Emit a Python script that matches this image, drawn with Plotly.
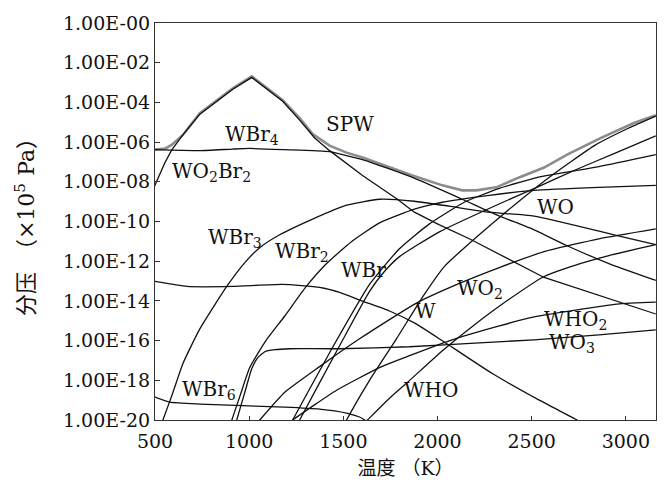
import plotly.graph_objects as go

# Temperatures (K) and log10 partial pressures (x1e5 Pa)
T_SPW = [500, 553, 590, 648, 738, 828, 913, 1014, 1178, 1268, 1337, 1427, 1517, 1602, 1867, 2026, 2131, 2206, 2312, 2433, 2566, 2688, 2868, 3043, 3159]
lg_SPW = [-6.38, -6.33, -6.13, -5.64, -4.54, -3.89, -3.29, -2.69, -3.89, -4.79, -5.59, -6.18, -6.53, -6.78, -7.68, -8.18, -8.43, -8.43, -8.28, -7.78, -7.28, -6.63, -5.79, -5.04, -4.64]

T_WO2Br2 = [495, 526, 553, 590, 648, 738, 828, 913, 1014, 1178, 1268, 1348, 1427, 1602, 1787, 1877, 2010, 2169, 2566, 2953, 3159]
lg_WO2Br2 = [-8.28, -7.63, -7.03, -6.38, -5.64, -4.59, -3.94, -3.34, -2.74, -3.94, -4.89, -5.79, -6.43, -7.68, -8.88, -9.53, -10.17, -10.87, -12.82, -14.01, -14.66]

T_WBr4 = [500, 738, 913, 1003, 1189, 1427, 1517, 1602, 1867, 2131, 2317, 2513, 2688, 2910, 3159]
lg_WBr4 = [-6.38, -6.43, -6.35, -6.32, -6.38, -6.48, -6.68, -6.88, -7.78, -8.88, -9.68, -10.42, -11.22, -12.12, -12.97]

T_WBr3 = [523, 542, 590, 648, 738, 881, 977, 1056, 1162, 1337, 1517, 1692, 1877, 2062, 2275, 2513, 2937, 3159]
lg_WBr3 = [-20.5, -20.0, -18.75, -17.16, -15.41, -13.27, -12.07, -11.32, -10.67, -9.88, -9.18, -8.88, -8.98, -9.23, -9.53, -9.73, -10.67, -11.17]

T_WBr2 = [892, 908, 956, 1003, 1088, 1189, 1295, 1411, 1543, 1692, 1877, 2026, 2275, 2513, 2857, 3159]
lg_WBr2 = [-20.5, -20.0, -18.65, -17.36, -16.01, -14.76, -13.37, -12.12, -11.02, -10.07, -9.38, -9.03, -8.68, -8.43, -8.28, -8.18]

T_WO3 = [918, 934, 977, 1014, 1046, 1083, 1136, 1215, 1480, 1851, 2222, 2513, 2857, 3159]
lg_WO3 = [-20.5, -20.0, -18.6, -17.41, -16.86, -16.56, -16.46, -16.41, -16.41, -16.31, -16.11, -15.96, -15.71, -15.46]

T_WBr5 = [500, 670, 913, 1178, 1374, 1480, 1602, 1745, 1877, 2026, 2291, 2540, 2741, 2804]
lg_WBr5 = [-13.02, -13.27, -13.27, -13.17, -13.32, -13.57, -14.01, -14.51, -15.11, -16.01, -17.66, -19.0, -20.0, -20.35]

T_WBr6 = [500, 579, 738, 1189, 1374, 1517, 1586, 1639]
lg_WBr6 = [-18.85, -19.1, -19.2, -19.35, -19.45, -19.65, -19.85, -20.15]

T_WO2 = [1003, 1056, 1189, 1374, 1586, 1888, 2116, 2328, 2566, 2857, 3159]
lg_WO2 = [-20.6, -20.0, -18.6, -17.31, -15.91, -14.11, -13.12, -12.32, -11.52, -10.87, -10.37]

T_WHO2 = [1162, 1231, 1464, 1692, 1851, 2062, 2328, 2513, 2953, 3159]
lg_WHO2 = [-20.5, -20.0, -18.5, -17.36, -16.76, -16.01, -15.26, -14.81, -14.16, -14.06]

T_WHO = [1586, 1628, 1745, 1835, 2026, 2195, 2380, 2566, 2725, 2910, 3159]
lg_WHO = [-20.4, -20.0, -18.9, -18.15, -16.51, -15.21, -13.92, -12.77, -12.22, -11.72, -11.17]

T_WO = [1205, 1231, 1427, 1639, 1798, 1957, 2142, 2328, 2555, 2857, 3159]
lg_WO = [-20.5, -20.0, -16.61, -13.17, -11.37, -10.12, -9.03, -8.33, -7.73, -7.23, -6.63]

T_WBr = [1242, 1268, 1480, 1639, 1718, 1798, 2010, 2312, 2539, 2725, 2937, 3159]
lg_WBr = [-20.5, -20.0, -16.26, -13.52, -12.52, -11.77, -10.52, -9.18, -8.23, -7.43, -6.58, -5.69]

T_W = [1491, 1517, 1639, 1782, 1930, 2036, 2131, 2343, 2592, 2841, 3016, 3159]
lg_W = [-20.5, -20.0, -18.0, -15.91, -13.67, -12.27, -11.42, -9.68, -7.78, -6.13, -5.29, -4.69]

# Curve labels: text, temperature, log10 pressure
label_text = ["SPW", "WBr<sub>4</sub>", "WO<sub>2</sub>Br<sub>2</sub>", "WBr<sub>3</sub>", "WBr<sub>2</sub>",
              "WBr", "WO", "WO<sub>2</sub>", "W", "WHO<sub>2</sub>", "WO<sub>3</sub>", "WHO", "WBr<sub>6</sub>"]
label_T = [1533, 1015, 800, 927, 1282, 1607, 2629, 2225, 1935, 2733, 2712, 1967, 789]
label_lg = [-5.09, -5.62, -7.5, -10.85, -11.55, -12.42, -9.28, -13.4, -14.51, -14.95, -16.1, -18.5, -18.48]

y_tick_exp = [0, -2, -4, -6, -8, -10, -12, -14, -16, -18, -20]
y_tick_text = ["1.00E-00", "1.00E-02", "1.00E-04", "1.00E-06", "1.00E-08", "1.00E-10",
               "1.00E-12", "1.00E-14", "1.00E-16", "1.00E-18", "1.00E-20"]
x_ticks = [500, 1000, 1500, 2000, 2500, 3000]

FONT = "DejaVu Serif, Noto Sans CJK SC, serif"

fig = go.Figure()

fig.add_trace(go.Scatter(x=T_SPW, y=[10 ** v for v in lg_SPW], mode="lines",
                         line=dict(color="#8c8c8c", width=2.6, shape="linear")))
fig.add_trace(go.Scatter(x=T_WO2Br2, y=[10 ** v for v in lg_WO2Br2], mode="lines",
                         line=dict(color="#111111", width=1.3, shape="linear")))

species = [
    (T_WBr4, lg_WBr4), (T_WBr3, lg_WBr3), (T_WBr2, lg_WBr2),
    (T_WO3, lg_WO3), (T_WBr5, lg_WBr5), (T_WBr6, lg_WBr6), (T_WO2, lg_WO2),
    (T_WHO2, lg_WHO2), (T_WHO, lg_WHO), (T_WO, lg_WO), (T_WBr, lg_WBr), (T_W, lg_W),
]
for T, lg in species:
    fig.add_trace(go.Scatter(x=T, y=[10 ** v for v in lg], mode="lines",
                             line=dict(color="#111111", width=1.3, shape="spline", smoothing=0.5)))

for txt, t, l in zip(label_text, label_T, label_lg):
    fig.add_annotation(x=t, y=l, text=txt, showarrow=False,
                       font=dict(family=FONT, size=20, color="#111111"))

fig.update_layout(
    width=669, height=493,
    margin=dict(l=155, r=12, t=19, b=73),
    paper_bgcolor="white", plot_bgcolor="white",
    showlegend=False,
    font=dict(family=FONT, size=18, color="#111111"),
)
fig.update_xaxes(range=[500, 3160], tickvals=x_ticks, ticks="inside", ticklen=4,
                 tickcolor="#333333", showline=True, linecolor="#333333", linewidth=1.2,
                 mirror=True, showgrid=False, zeroline=False, ticklabelstandoff=4,
                 tickfont=dict(family=FONT, size=19),
                 title=dict(text="温度 （K）", font=dict(family=FONT, size=19), standoff=10))
fig.update_yaxes(type="log", range=[-20, 0], tickvals=[10 ** e for e in y_tick_exp],
                 ticktext=y_tick_text, ticks="inside", ticklen=5,
                 tickcolor="#333333", showline=True, linecolor="#333333", linewidth=1.2,
                 mirror=True, showgrid=False, zeroline=False,
                 tickfont=dict(family=FONT, size=19),
                 title=dict(text="分压　（×10<sup>5</sup> Pa）", font=dict(family=FONT, size=22), standoff=22))

fig.write_html("out.html")
